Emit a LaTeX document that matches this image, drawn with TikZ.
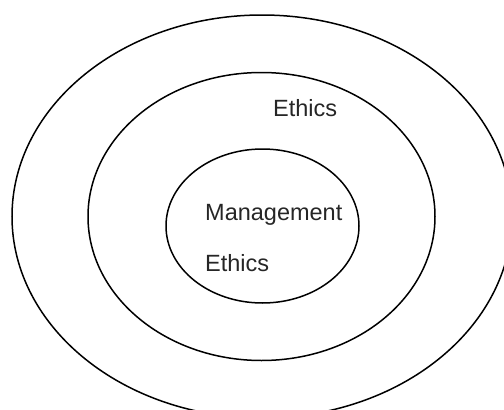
\documentclass[tikz,border=0pt]{standalone}
\usepackage{fontspec}
\setmainfont{Liberation Sans}
\begin{document}
\begin{tikzpicture}[x=1pt,y=-1pt]
  \tikzstyle{ring}=[line width=1.5pt];
  \tikzstyle{label}=[anchor=base west,inner sep=0pt,font=\fontsize{23.5}{28}\selectfont,text=black!85];

  \useasboundingbox (0,0) rectangle (504,410);

  % rings
  \coordinate (outerc) at (262,216.5);
  \coordinate (midc) at (261.5,216.5);
  \coordinate (innerc) at (262.5,226);
  \draw [ring] (outerc) ellipse [x radius=250, y radius=201.5];
  \draw [ring] (midc) ellipse [x radius=173.5, y radius=144];
  \draw [ring] (innerc) ellipse [x radius=96.5, y radius=77];

  % texts
  \node[label] (ethicsout) at (273,116) {Ethics};
  \node[label] (mgmt) at (205,220) {Management};
  \node[label] (ethicsin) at (205,271) {Ethics};

\end{tikzpicture}
\end{document}
